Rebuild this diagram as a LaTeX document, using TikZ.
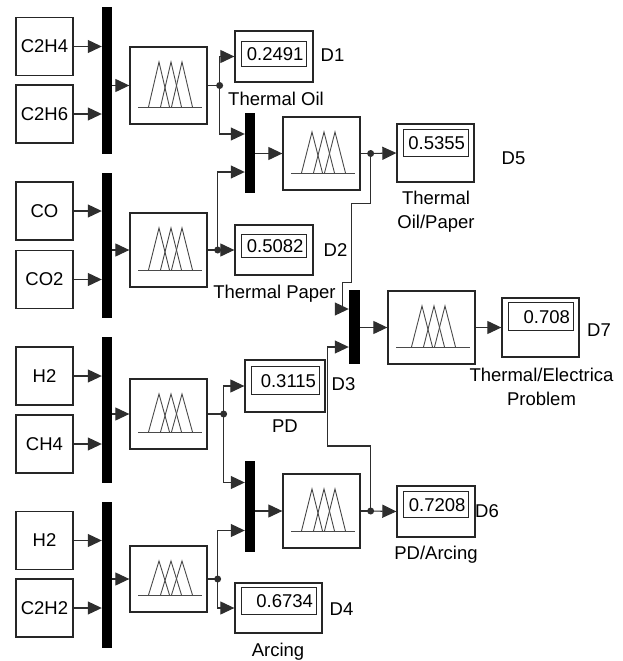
\documentclass[tikz,border=0pt]{standalone}
\usepackage{fontspec}
\setmainfont{Liberation Sans}
\usetikzlibrary{arrows.meta,positioning}
\definecolor{BlockEdge}{HTML}{262626}
\definecolor{SignalLine}{HTML}{2E2E2E}
\definecolor{IconLine}{HTML}{4A4A4A}

\begin{document}
\begin{tikzpicture}[x=1pt,y=-1pt,font=\fontsize{18.5}{24}\selectfont,
  srcbox/.style={draw=BlockEdge,line width=1.3pt,minimum width=57pt,minimum height=58pt,inner sep=0pt},
  muxbar/.style={fill=black,minimum width=10pt,inner sep=0pt},
  fisbox/.style={draw=BlockEdge,line width=1.3pt,minimum width=77pt,inner sep=0pt,
    path picture={
      \draw[IconLine,line width=1pt]
        ([shift={(8pt,17pt)}]path picture bounding box.south west)
        -- ([shift={(-5pt,17pt)}]path picture bounding box.south east);
      \foreach \p in {-9.5,2.5,13.5}
        \draw[IconLine,line width=0.9pt]
          ([shift={(\p pt-10.5pt,17pt)}]path picture bounding box.south)
          -- ([shift={(\p pt,-15pt)}]path picture bounding box.north)
          -- ([shift={(\p pt+10.5pt,17pt)}]path picture bounding box.south);
    }},
  dispbox/.style={draw=BlockEdge,line width=1.3pt,minimum width=78pt,minimum height=51pt,inner sep=0pt},
  valbox/.style={draw=BlockEdge,line width=0.9pt,text width=#1,align=right,inner sep=3pt,minimum height=26pt},
  valbox/.default=59pt,
  lbl/.style={inner sep=0pt,text height=13pt,text depth=0pt},
  lbltwo/.style={inner sep=0pt,align=center},
  wire/.style={draw=SignalLine,line width=1.1pt},
  sig/.style={wire,-{Triangle[length=14pt,width=13pt]}}]
  \useasboundingbox (0,0) rectangle (622,661);

  \node[srcbox] (c2h4) at (44.5,46.5) {C2H4};
  \node[srcbox] (c2h6) at (44.5,114) {C2H6};
  \node[srcbox] (co) at (44.5,211) {CO};
  \node[srcbox] (co2) at (44.5,279.5) {CO2};
  \node[srcbox] (h2a) at (44.5,376) {H2};
  \node[srcbox] (ch4) at (44.5,444) {CH4};
  \node[srcbox] (h2b) at (44.5,540.5) {H2};
  \node[srcbox] (c2h2) at (44.5,608) {C2H2};

  \node[muxbar,minimum height=147pt] (mux1) at (107,80.5) {};
  \node[muxbar,minimum height=145pt] (mux2) at (107,245.5) {};
  \node[muxbar,minimum height=146pt] (mux3) at (107,410) {};
  \node[muxbar,minimum height=146pt] (mux4) at (107,575) {};
  \node[muxbar,minimum height=80pt] (muxa) at (250,153) {};
  \node[muxbar,minimum height=91pt] (muxb) at (250,506.5) {};
  \node[muxbar,minimum height=74pt,minimum width=11pt] (muxc) at (354.5,327) {};

  \node[fisbox,minimum height=77pt] (fis1) at (168.5,85.5) {};
  \node[fisbox,minimum height=74pt] (fis2) at (168.5,250) {};
  \node[fisbox,minimum height=70pt] (fis3) at (168.5,414) {};
  \node[fisbox,minimum height=66pt] (fis4) at (168.5,579) {};
  \node[fisbox,minimum height=73pt] (fisa) at (321.5,153.5) {};
  \node[fisbox,minimum height=74pt] (fisb) at (321.5,511) {};
  \node[fisbox,minimum height=73pt,minimum width=87pt] (fisc) at (431.5,327.5) {};

  \node[dispbox] (d1) at (274,56.5) {};
  \node[valbox,minimum height=25pt,below=11pt of d1.north] (v1) {0.2491};
  \node[dispbox,minimum height=50pt] (d2) at (274,250) {};
  \node[valbox,minimum height=23pt,below=10pt of d2.north] (v2) {0.5082};
  \node[dispbox,minimum width=80pt,minimum height=52pt] (d3) at (285,386) {};
  \node[valbox=62pt,minimum height=28pt,below=7pt of d3.north] (v3) {0.3115};
  \node[dispbox,minimum width=87pt,minimum height=50pt] (d4) at (278.5,608) {};
  \node[valbox=69pt,minimum height=27pt,below=5pt of d4.north] (v4) {0.6734};
  \node[dispbox,minimum width=77pt,minimum height=58pt] (d5) at (435.5,153) {};
  \node[valbox,minimum height=27pt,below=6pt of d5.north] (v5) {0.5355};
  \node[dispbox] (d6) at (436,511.5) {};
  \node[valbox,below=6pt of d6.north] (v6) {0.7208};
  \node[dispbox,minimum width=77pt,minimum height=59pt] (d7) at (540.5,327.5) {};
  \node[valbox,minimum height=28pt,below=5pt of d7.north] (v7) {0.708};

  \node[lbl] (t1) at (332.5,55) {D1};
  \node[lbl] (n1) at (276,99) {Thermal Oil};
  \node[lbl] (t2) at (335.5,250) {D2};
  \node[lbl] (n2) at (274.5,292) {Thermal Paper};
  \node[lbl] (t3) at (343.5,384) {D3};
  \node[lbl] (n3) at (285,426) {PD};
  \node[lbl] (t4) at (341.5,609) {D4};
  \node[lbl] (n4) at (278,650) {Arcing};
  \node[lbl] (t5) at (513.5,158) {D5};
  \node[lbltwo] (n5) at (436,211.5) {Thermal\\Oil/Paper};
  \node[lbl] (t6) at (487,511) {D6};
  \node[lbl] (n6) at (436,553) {PD/Arcing};
  \node[lbl] (t7) at (599,330) {D7};
  \node[lbltwo] (n7) at (541.5,387) {Thermal/Electrica\\Problem};

  \draw[sig] (c2h4) -- (c2h4 -| mux1.west);
  \draw[sig] (c2h6) -- (c2h6 -| mux1.west);
  \draw[sig] (co) -- (co -| mux2.west);
  \draw[sig] (co2) -- (co2 -| mux2.west);
  \draw[sig] (h2a) -- (h2a -| mux3.west);
  \draw[sig] (ch4) -- (ch4 -| mux3.west);
  \draw[sig] (h2b) -- (h2b -| mux4.west);
  \draw[sig] (c2h2) -- (c2h2 -| mux4.west);

  \draw[sig] (fis1.west -| mux1.east) -- (fis1.west);
  \draw[sig] (fis2.west -| mux2.east) -- (fis2.west);
  \draw[sig] (fis3.west -| mux3.east) -- (fis3.west);
  \draw[sig] (fis4.west -| mux4.east) -- (fis4.west);
  \draw[sig] (fisa.west -| muxa.east) -- (fisa.west);
  \draw[sig] (fisb.west -| muxb.east) -- (fisb.west);
  \draw[sig] (fisc.west -| muxc.east) -- (fisc.west);
  \draw[sig] (fisc.east) -- (d7.west);

  \coordinate (j1) at ([xshift=12pt]fis1.east);
  \coordinate (j2) at ([xshift=10pt]fis2.east);
  \coordinate (j3) at ([xshift=16pt]fis3.east);
  \coordinate (j4) at ([xshift=10pt]fis4.east);
  \coordinate (j5) at ([xshift=10pt]fisa.east);
  \coordinate (j6) at ([xshift=10pt]fisb.east);

  \draw[wire] (fis1.east) -- (j1);
  \draw[sig] (j1) |- (d1.west);
  \draw[sig] (j1) |- ([yshift=19pt]muxa.west);
  \draw[wire] (fis2.east) -- (j2);
  \draw[sig] (j2) -- (d2.west);
  \draw[sig] (j2) |- ([yshift=-19pt]muxa.west);
  \draw[wire] (fis3.east) -- (j3);
  \draw[sig] (j3) |- (d3.west);
  \draw[sig] (j3) |- ([yshift=24pt]muxb.west);
  \draw[wire] (fis4.east) -- (j4);
  \draw[sig] (j4) |- (d4.west);
  \draw[sig] (j4) |- ([yshift=-24pt]muxb.west);
  \draw[wire] (fisa.east) -- (j5);
  \draw[sig] (j5) -- (d5.west);
  \draw[sig] (j5) -- ++(0,50) -| ++(-19,79) -- ++(-9,0) |- ([yshift=18pt]muxc.west);
  \draw[wire] (fisb.east) -- (j6);
  \draw[sig] (j6) -- (d6.west);
  \draw[sig] (j6) -- ++(0,-65) -| ([xshift=-21pt,yshift=-20pt]muxc.west) -- ([yshift=-20pt]muxc.west);

  \foreach \j in {j1,j2,j3,j4,j5,j6}
    \fill[SignalLine] (\j) circle (3.5pt);
\end{tikzpicture}
\end{document}
